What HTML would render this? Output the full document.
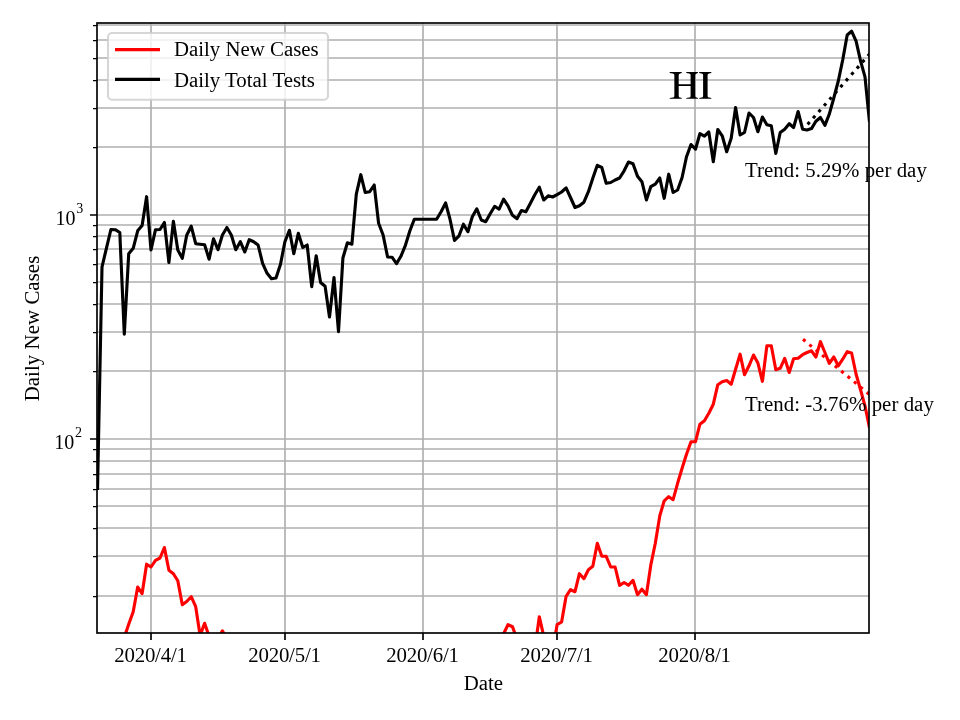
<!DOCTYPE html>
<html><head><meta charset="utf-8"><title>HI</title>
<style>
html,body{margin:0;padding:0;background:#fff;}
body{width:960px;height:720px;position:relative;overflow:hidden;font-family:"Liberation Serif",serif;color:#000;}
svg text{font-family:"Liberation Serif",serif;fill:#000;}
</style></head><body>
<svg width="960" height="720" viewBox="0 0 960 720" style="position:absolute;left:0;top:0;will-change:transform">
<defs><clipPath id="c"><rect x="97" y="23" width="772" height="610"/></clipPath></defs>
<rect x="0" y="0" width="960" height="720" fill="#fff"/>
<path d="M97 596 H869 M97 556 H869 M97 528 H869 M97 506 H869 M97 489 H869 M97 474 H869 M97 461 H869 M97 449 H869 M97 439 H869 M97 371 H869 M97 332 H869 M97 304 H869 M97 282 H869 M97 264 H869 M97 249 H869 M97 236 H869 M97 225 H869 M97 215 H869 M97 147 H869 M97 108 H869 M97 80 H869 M97 58 H869 M97 40 H869 M97 25 H869 M151.0 23 V633 M285.0 23 V633 M423.0 23 V633 M557.0 23 V633 M695.0 23 V633" stroke="#b0b0b0" stroke-width="1.67" fill="none"/>
<path d="M97 439 h-7 M97 215 h-7 M151.0 633 v7 M285.0 633 v7 M423.0 633 v7 M557.0 633 v7 M695.0 633 v7" stroke="#000" stroke-width="1.67" fill="none"/>
<path d="M97 596.5 h-4 M97 556.5 h-4 M97 528.5 h-4 M97 506.5 h-4 M97 489.5 h-4 M97 474.5 h-4 M97 461.5 h-4 M97 449.5 h-4 M97 371.5 h-4 M97 332.5 h-4 M97 304.5 h-4 M97 282.5 h-4 M97 264.5 h-4 M97 249.5 h-4 M97 236.5 h-4 M97 225.5 h-4 M97 147.5 h-4 M97 108.5 h-4 M97 80.5 h-4 M97 58.5 h-4 M97 40.5 h-4 M97 25.5 h-4" stroke="#000" stroke-width="1.25" fill="none"/>
<g clip-path="url(#c)" fill="none" stroke-linejoin="round" stroke-linecap="butt">
<path d="M119.8 650.0 L124.3 637.3 L128.7 624.3 L133.2 611.7 L137.7 587.0 L142.1 593.7 L146.6 564.2 L151.0 567.0 L155.5 560.3 L160.0 558.0 L164.4 547.5 L168.9 570.3 L173.4 573.7 L177.8 580.8 L182.3 604.7 L186.7 601.5 L191.2 596.7 L195.7 606.7 L200.1 635.5 L204.6 623.3 L209.1 636.3 L213.5 645.0 L218.0 639.0 L222.4 630.8 L226.9 639.0 L231.4 650.0 M499.1 650.0 L503.6 633.8 L508.0 624.7 L512.5 626.7 L517.0 639.3 L521.4 650.0 M530.4 660.0 L534.8 649.5 L539.3 616.7 L543.7 636.0 L548.2 650.0 L552.7 651.0 L557.1 624.7 L561.6 622.0 L566.1 596.3 L570.5 589.7 L575.0 591.7 L579.4 573.7 L583.9 578.7 L588.4 569.7 L592.8 566.3 L597.3 543.3 L601.8 556.3 L606.2 556.3 L610.7 567.0 L615.1 567.0 L619.6 585.3 L624.1 582.5 L628.5 585.3 L633.0 580.3 L637.5 594.7 L641.9 589.2 L646.4 594.7 L650.8 565.0 L655.3 543.3 L659.8 515.8 L664.2 500.8 L668.7 496.7 L673.1 499.7 L677.6 483.3 L682.1 468.3 L686.5 454.2 L691.0 441.7 L695.5 441.7 L699.9 424.2 L704.4 420.8 L708.8 413.3 L713.3 404.2 L717.8 384.7 L722.2 381.7 L726.7 380.5 L731.2 384.2 L735.6 369.2 L740.1 354.2 L744.5 374.7 L749.0 365.8 L753.5 355.0 L757.9 363.0 L762.4 381.3 L766.9 345.8 L771.3 345.8 L775.8 369.7 L780.2 368.3 L784.7 358.3 L789.2 372.5 L793.6 358.7 L798.1 358.3 L802.6 354.7 L807.0 352.5 L811.5 350.8 L815.9 357.0 L820.4 341.7 L824.9 352.5 L829.3 363.3 L833.8 357.0 L838.3 365.8 L842.7 359.2 L847.2 351.7 L851.6 353.0 L856.1 374.2 L860.6 390.0 L865.0 405.8 L869.5 428.0" stroke="#ff0000" stroke-width="3.125"/>
<path d="M97.5 490.0 L102.0 267.0 L106.4 248.3 L110.9 229.5 L115.3 229.7 L119.8 232.5 L124.3 334.2 L128.7 253.8 L133.2 248.3 L137.7 230.8 L142.1 225.5 L146.6 196.7 L151.0 250.0 L155.5 229.7 L160.0 229.5 L164.4 222.5 L168.9 262.5 L173.4 221.2 L177.8 250.0 L182.3 258.3 L186.7 235.3 L191.2 226.2 L195.7 243.7 L200.1 244.2 L204.6 244.7 L209.1 259.2 L213.5 238.8 L218.0 249.7 L222.4 235.0 L226.9 227.5 L231.4 235.3 L235.8 249.7 L240.3 241.7 L244.8 252.0 L249.2 239.7 L253.7 241.7 L258.1 245.0 L262.6 263.3 L267.1 273.3 L271.5 278.7 L276.0 278.0 L280.5 264.2 L284.9 241.7 L289.4 230.3 L293.8 253.7 L298.3 233.3 L302.8 247.5 L307.2 245.0 L311.7 286.7 L316.2 255.8 L320.6 282.5 L325.1 286.3 L329.5 317.0 L334.0 277.5 L338.5 331.7 L342.9 258.0 L347.4 242.8 L351.9 244.2 L356.3 194.2 L360.8 174.7 L365.2 192.5 L369.7 191.7 L374.2 185.0 L378.6 223.3 L383.1 235.0 L387.6 257.0 L392.0 257.2 L396.5 263.7 L400.9 256.3 L405.4 245.3 L409.9 230.8 L414.3 219.2 L418.8 219.2 L423.3 219.2 L427.7 219.2 L432.2 219.2 L436.6 219.2 L441.1 211.7 L445.6 203.0 L450.0 219.2 L454.5 240.5 L459.0 235.8 L463.4 224.2 L467.9 231.7 L472.3 216.7 L476.8 208.8 L481.3 220.0 L485.7 221.7 L490.2 213.8 L494.7 206.3 L499.1 209.2 L503.6 199.2 L508.0 205.8 L512.5 215.3 L517.0 218.7 L521.4 210.5 L525.9 211.7 L530.4 203.3 L534.8 194.7 L539.3 187.2 L543.7 200.0 L548.2 195.8 L552.7 197.0 L557.1 194.7 L561.6 192.0 L566.1 187.8 L570.5 197.5 L575.0 207.5 L579.4 205.8 L583.9 202.2 L588.4 191.7 L592.8 178.3 L597.3 165.3 L601.8 167.5 L606.2 183.3 L610.7 182.5 L615.1 180.0 L619.6 178.0 L624.1 170.8 L628.5 162.0 L633.0 163.7 L637.5 176.3 L641.9 181.7 L646.4 200.0 L650.8 186.7 L655.3 184.2 L659.8 178.0 L664.2 198.3 L668.7 174.2 L673.1 192.5 L677.6 190.0 L682.1 177.5 L686.5 156.7 L691.0 144.5 L695.5 149.2 L699.9 133.7 L704.4 136.2 L708.8 132.0 L713.3 161.7 L717.8 129.5 L722.2 135.8 L726.7 151.7 L731.2 138.3 L735.6 107.5 L740.1 135.0 L744.5 132.5 L749.0 113.0 L753.5 117.5 L757.9 131.7 L762.4 117.0 L766.9 124.7 L771.3 125.8 L775.8 153.5 L780.2 132.5 L784.7 129.2 L789.2 123.7 L793.6 127.5 L798.1 111.5 L802.6 129.2 L807.0 130.0 L811.5 128.6 L815.9 121.3 L820.4 117.5 L824.9 125.3 L829.3 114.2 L833.8 98.0 L838.3 81.0 L842.7 60.0 L847.2 35.0 L851.6 31.2 L856.1 41.2 L860.6 61.2 L865.0 76.9 L869.5 122.0" stroke="#000" stroke-width="3.125"/>
<path d="M807.6 124.4 L869.5 54.1" stroke="#000" stroke-width="3.125" stroke-dasharray="3.125 5.156"/>
<path d="M803.0 339.3 L869.5 394.5" stroke="#ff0000" stroke-width="3.125" stroke-dasharray="3.125 5.156"/>
</g>
<rect x="97" y="23" width="772" height="610" fill="none" stroke="#000" stroke-width="1.67"/>
<rect x="108" y="33" width="220" height="66.8" rx="4" ry="4" fill="#fff" fill-opacity="0.8" stroke="#cccccc" stroke-opacity="0.8" stroke-width="2.08"/>
<path d="M115 49.6 H160" stroke="#ff0000" stroke-width="3.125"/>
<path d="M115 79.4 H160" stroke="#000" stroke-width="3.125"/>
<text x="150.5" y="662" font-size="20.83" text-anchor="middle" letter-spacing="-0.2">2020/4/1</text>
<text x="284.5" y="662" font-size="20.83" text-anchor="middle" letter-spacing="-0.2">2020/5/1</text>
<text x="422.5" y="662" font-size="20.83" text-anchor="middle" letter-spacing="-0.2">2020/6/1</text>
<text x="556.5" y="662" font-size="20.83" text-anchor="middle" letter-spacing="-0.2">2020/7/1</text>
<text x="694.5" y="662" font-size="20.83" text-anchor="middle" letter-spacing="-0.2">2020/8/1</text>
<text x="483.3" y="690" font-size="20.83" text-anchor="middle" >Date</text>
<text x="39" y="328.5" font-size="20.83" text-anchor="middle" letter-spacing="0.07" transform="rotate(-90 39 328.5)">Daily New Cases</text>
<text x="174" y="56" font-size="20.83" text-anchor="start" >Daily New Cases</text>
<text x="174" y="87" font-size="20.83" text-anchor="start" >Daily Total Tests</text>
<path d="M669.70 72.10 H681.70 V72.90 L680.20 73.50 Q678.70 73.50 678.70 75.00 V95.90 Q678.70 97.40 680.20 97.40 L681.70 98.00 V98.80 H669.70 V98.00 L672.85 97.40 Q674.35 97.40 674.35 95.90 V75.00 Q674.35 73.50 672.85 73.50 L669.70 72.90 Z M686.30 72.10 H697.90 V72.90 L696.70 73.50 Q695.20 73.50 695.20 75.00 V95.90 Q695.20 97.40 696.70 97.40 L697.90 98.00 V98.80 H686.30 V98.00 L689.10 97.40 Q690.60 97.40 690.60 95.90 V75.00 Q690.60 73.50 689.10 73.50 L686.30 72.90 Z M678 84.2 H691 V86 H678 Z M699.20 72.10 H711.30 V72.90 L709.10 73.50 Q707.60 73.50 707.60 75.00 V95.90 Q707.60 97.40 709.10 97.40 L711.30 98.00 V98.80 H699.20 V98.00 L701.60 97.40 Q703.10 97.40 703.10 95.90 V75.00 Q703.10 73.50 701.60 73.50 L699.20 72.90 Z" fill="#000"/>
<text x="745" y="177" font-size="20.83" text-anchor="start" letter-spacing="0.05">Trend: 5.29% per day</text>
<text x="745" y="411" font-size="20.83" text-anchor="start" letter-spacing="0.05">Trend: -3.76% per day</text>
<text x="55.5" y="225" font-size="20">10</text><text x="76.3" y="213" font-size="14">3</text>
<text x="54.3" y="449" font-size="20">10</text><text x="75.1" y="437" font-size="14">2</text>
</svg>
</body></html>
